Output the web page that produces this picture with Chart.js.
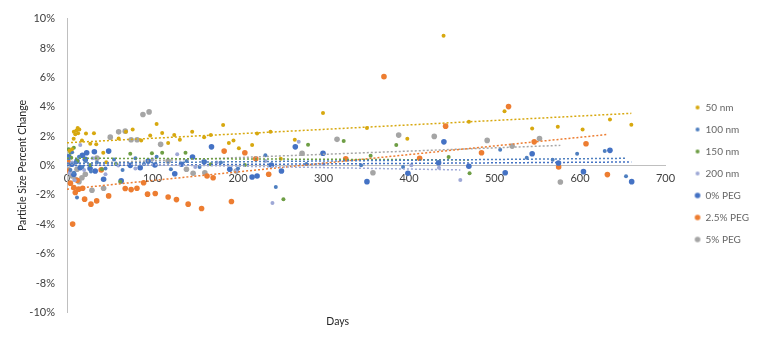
<!DOCTYPE html>
<html>
<head>
<meta charset="utf-8">
<script src="https://cdn.jsdelivr.net/npm/chart.js@4.4.1/dist/chart.umd.min.js"></script>
<style>
  html, body { margin: 0; padding: 0; background: #ffffff; }
  #wrap { width: 760px; height: 338px; }
</style>
</head>
<body>
<div id="wrap"><canvas id="c" width="760" height="338"></canvas></div>
<script>
// ---- Data (days, percent change) ----
const seriesNames = ['50 nm', '100 nm', '150 nm', '200 nm', '0% PEG', '2.5% PEG', '5% PEG'];

const days50 = [3, 5.8, 7.8, 8, 9.7, 10.9, 12.5, 13, 14.4, 17.5, 22.2, 27.2, 31.5, 34.2, 42.4, 45.9, 60.4, 68.9, 76.8, 86.8, 97.3, 104.8, 111.3, 118.3, 125.4, 132, 146.4, 160.4, 168.2, 182.6, 189.3, 194.7, 201, 216.5, 222.3, 238, 250, 266.4, 299.4, 350.8, 398, 440.4, 470, 511.7, 544, 574, 603, 635, 660];
const pct50  = [1.0, 1.1, 1.82, 2.3, 2.12, 2.39, 2.56, 2.2, 2.45, 1.71, 2.18, 1.48, 2.2, 1.44, 0.87, 0.22, 1.84, 2.29, 2.45, 1.71, 2.05, 2.83, 2.22, 1.53, 2.07, 1.75, 2.29, 1.93, 2.07, 2.75, 1.53, 1.71, 1.17, 1.39, 2.18, 2.29, 0.46, 1.75, 3.58, 2.56, 1.82, 8.83, 2.97, 3.69, 2.52, 2.63, 2.45, 3.13, 2.77];

const days100 = [2, 4, 6, 8, 10, 11.7, 14, 18, 22, 28, 35, 45, 55, 65, 80, 90, 104.8, 121.5, 140, 155, 180, 200, 232, 244.2, 280, 344, 393, 506.6, 537.7, 568, 596.6, 628.9, 653.8];
const pct100  = [0.5, -0.3, 0.9, -0.5, 0.2, -2.18, 0.6, -0.1, 0.3, -0.4, 0.2, -0.2, 0.4, -0.3, 0.5, 0.1, 0.6, -0.26, 0.3, -0.1, 0.2, -0.2, 0.69, -1.46, 0.1, 0.01, -0.1, 1.07, 0.53, 0.39, 0.8, 0.98, -0.73];

const days150 = [2, 3.9, 5, 8, 12, 27.2, 40.9, 57.2, 62.3, 74, 99.3, 111.3, 138.6, 168.2, 208, 253.1, 281.9, 323.6, 355.1, 385.1, 446.3, 470.8];
const pct150  = [1.1, 0.87, 0.53, 1.2, 0.3, 0.03, -0.26, 0.12, -1.1, 0.8, 0.83, 0.87, 0.87, 0.08, 0.03, -2.29, 1.41, 1.66, 0.67, 1.39, 0.58, -0.53];

const days200 = [3, 6, 9, 15.5, 20, 30, 45, 60, 80, 100, 128.9, 150, 175, 198.6, 232, 240.3, 271, 300, 402.7, 435, 460];
const pct200  = [-0.5, 0.2, -1.0, 1.39, -0.3, 0.5, -0.6, 0.0, -0.2, 0.4, 0.76, -0.1, 0.2, -0.33, 0.3, -2.56, 1.61, 0.1, 0.01, -0.15, -0.98];

const daysPeg0 = [2, 5.8, 8, 11.7, 15.5, 18, 21.4, 23, 27, 32, 33, 42.8, 48.7, 63.4, 74, 85.6, 95, 102.8, 126, 134, 146.8, 160.4, 169, 190.4, 216.5, 222.3, 239, 250.8, 267, 299.4, 350.8, 398.7, 434.6, 440.8, 470, 512.5, 544, 574.8, 604, 635, 660.4];
const pctPeg0  = [0.6, 0.08, -0.6, 0.3, -0.15, 0.7, 0.42, 0.87, -0.2, 0.94, -0.37, -0.94, 0.98, -1.05, 0.01, -0.15, 0.3, 0.03, -0.56, 0.08, 0.58, 0.26, 1.27, -0.26, -0.78, -0.71, 0.03, -0.37, 1.27, 0.83, -1.1, -0.53, 0.19, 1.61, -0.05, -0.49, 0.8, 0.17, -0.42, 1.03, -1.1];

const daysPeg25 = [1.2, 2, 4, 6.6, 8, 9.7, 12, 13.6, 18.3, 20.6, 28, 34.7, 40, 48.7, 68.1, 75, 81.8, 89.6, 94.2, 103.2, 118.3, 128, 141.7, 157.4, 163.8, 170.9, 183.8, 192.3, 208, 220.8, 235.9, 326, 370.7, 412.4, 442.8, 484.8, 516.4, 546.4, 575, 607, 632];
const pctPeg25  = [0.26, -0.37, -1.2, -3.99, -1.5, -1.84, -1.0, -1.61, -1.55, -2.29, -2.63, -2.41, -0.3, -2.07, -1.57, -1.64, -1.55, -1.17, -1.95, -1.91, -2.14, -2.32, -2.63, -2.93, -0.71, -0.83, 0.98, -2.45, 0.87, 0.46, -0.6, 0.46, 6.05, 0.49, 2.68, 0.87, 4.01, 1.61, -0.1, 1.48, -0.62];

const daysPeg5 = [2, 4, 5.8, 9.7, 11.7, 14, 17.5, 21.4, 29.2, 35, 42.8, 50.6, 60.4, 68.1, 75, 82, 88.8, 96, 109.5, 118.3, 139.7, 147.5, 161.2, 198, 274.9, 315.8, 357.8, 387.9, 429.5, 491.4, 520.6, 552.6, 577];
const pctPeg5  = [-0.3, 0.1, -0.71, -0.94, -0.26, -1.1, -0.83, -0.6, -1.68, 0.5, -1.55, 1.93, 2.29, 2.34, 1.75, 1.75, 3.47, 3.65, 1.44, 0.3, -0.26, -0.53, -0.49, -0.37, 0.83, 1.78, -0.49, 2.07, 1.98, 1.71, 1.32, 1.84, -1.12];

// Trendline endpoints: [start day, end day] and [start %, end %]
const trendDays = [[0, 660], [0, 654], [0, 471], [0, 460], [0, 660], [0, 632], [0, 577]];
const trendPct  = [[1.55, 3.55], [0.15, 0.49], [0.5, 0.38], [0.15, -0.3], [0.0, 0.24], [-1.61, 2.11], [0.1, 1.37]];

const yTicks = [-10, -8, -6, -4, -2, 0, 2, 4, 6, 8, 10];
const xTicks = [0, 100, 200, 300, 400, 500, 600, 700];

// ---- Styles ----
const colors = ['#D7A80F', '#4E7FC0', '#6E9E45', '#9EA8D6', '#4472C4', '#ED7D31', '#A5A5A5'];
const radii  = [2, 2, 2, 2, 2.8, 2.8, 2.8];

const allDays = [days50, days100, days150, days200, daysPeg0, daysPeg25, daysPeg5];
const allPct  = [pct50, pct100, pct150, pct200, pctPeg0, pctPeg25, pctPeg5];

function zip(a, b) { return a.map((d, i) => ({ x: d, y: b[i] })); }

const datasets = [];
seriesNames.forEach((name, i) => {
  datasets.push({
    label: name,
    data: zip(allDays[i], allPct[i]),
    backgroundColor: colors[i],
    borderColor: colors[i],
    borderWidth: 0,
    pointRadius: radii[i],
    pointHoverRadius: radii[i],
    order: 2
  });
});
seriesNames.forEach((name, i) => {
  datasets.push({
    label: 'trend_' + name,
    data: zip(trendDays[i], trendPct[i]),
    showLine: true,
    borderColor: colors[i],
    borderWidth: 1.5,
    borderDash: [2, 2],
    pointRadius: 0,
    fill: false,
    order: 1
  });
});

function dot(r, color) {
  const c = document.createElement('canvas');
  c.width = 10; c.height = 10;
  const g = c.getContext('2d');
  g.fillStyle = color;
  g.beginPath(); g.arc(5, 5, r, 0, Math.PI * 2); g.fill();
  return c;
}

const FONT = 'Lato, "Open Sans", sans-serif';

// Shift the "Days" title box so it sits where the reference puts it
const titleShift = {
  id: 'titleShift',
  afterLayout(chart) {
    const s = chart.scales.x2;
    if (s) { s.right -= 57; s.width = s.right - s.left; }
  }
};

new Chart(document.getElementById('c'), {
  type: 'scatter',
  data: { datasets },
  plugins: [titleShift],
  options: {
    responsive: false,
    animation: false,
    layout: { padding: { left: 10, right: 1, top: 12, bottom: 9 } },
    plugins: {
      tooltip: { enabled: false },
      legend: {
        position: 'right',
        title: { display: true, text: ' ', font: { size: 5 }, padding: 0 },
        labels: {
          color: '#262626',
          font: { family: FONT, size: 10 },
          padding: 12,
          usePointStyle: true,
          boxWidth: 6,
          boxHeight: 6,
          generateLabels: (chart) => seriesNames.map((n, i) => ({
            text: n,
            pointStyle: dot(radii[i], colors[i]),
            fillStyle: colors[i],
            strokeStyle: colors[i],
            lineWidth: 0,
            hidden: false,
            datasetIndex: i
          }))
        }
      }
    },
    scales: {
      x: {
        type: 'linear',
        min: 0, max: 700,
        position: { y: 0 },
        afterBuildTicks: s => { s.ticks = xTicks.map(v => ({ value: v })); },
        ticks: { color: '#404040', font: { family: FONT, size: 11 }, padding: 6 },
        grid: { display: false, drawTicks: false },
        border: { color: '#BFBFBF', width: 1 }
      },
      x2: {
        type: 'linear',
        position: 'bottom',
        min: 0, max: 700,
        ticks: { display: false },
        grid: { display: false, drawTicks: false },
        border: { display: false },
        title: { display: true, text: 'Days', color: '#262626', font: { family: FONT, size: 10.5 }, padding: { top: 3, bottom: 1 } }
      },
      y: {
        type: 'linear',
        min: -10, max: 10,
        afterBuildTicks: s => { s.ticks = yTicks.map(v => ({ value: v })); },
        afterFit: s => { s.width = 57; },
        ticks: { color: '#404040', font: { family: FONT, size: 11 }, padding: 12, callback: v => v + '%' },
        grid: { display: false, drawTicks: false },
        border: { color: '#BFBFBF', width: 1 },
        title: { display: true, text: 'Particle Size Percent Change', color: '#262626', font: { family: FONT, size: 10.5 }, padding: { top: 6.4, bottom: 0 } }
      },
      yGap: {
        type: 'linear',
        position: 'right',
        display: true,
        ticks: { display: false },
        grid: { display: false, drawTicks: false },
        border: { display: false },
        afterFit: s => { s.width = 17; }
      }
    }
  }
});
</script>
</body>
</html>
